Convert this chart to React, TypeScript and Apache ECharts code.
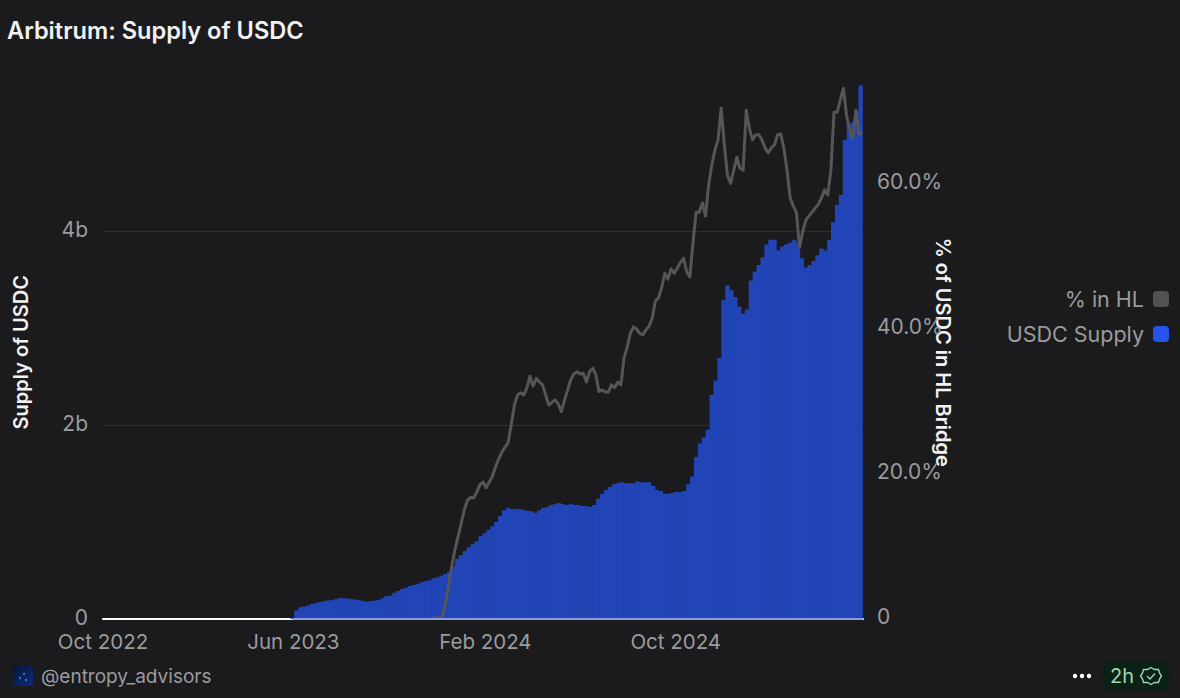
import React, { useEffect, useRef } from "react";
import * as echarts from "echarts";

const DAY = 86400000;
const axisStart = Date.UTC(2022, 9, 1);
const axisEnd = Date.UTC(2025, 4, 28);
const tickMonths = [Date.UTC(2022, 9, 1), Date.UTC(2023, 5, 1), Date.UTC(2024, 1, 1), Date.UTC(2024, 9, 1)];
const tickLabels = ["Oct 2022", "Jun 2023", "Feb 2024", "Oct 2024"];

// USDC supply in billions, one reading every 5 days from 31 May 2023
const supplyStart = Date.UTC(2023, 4, 31);
const supplyStepDays = 5;
const supplyB = [
  0.01, 0.09, 0.12, 0.13, 0.14, 0.155, 0.165, 0.175, 0.185, 0.19,
  0.195, 0.205, 0.215, 0.215, 0.21, 0.205, 0.2, 0.195, 0.185, 0.18,
  0.185, 0.19, 0.195, 0.215, 0.235, 0.24, 0.27, 0.29, 0.31, 0.32,
  0.34, 0.35, 0.36, 0.38, 0.39, 0.4, 0.42, 0.43, 0.445, 0.465,
  0.485, 0.545, 0.62, 0.66, 0.7, 0.74, 0.77, 0.8, 0.855, 0.885,
  0.92, 0.955, 1.0, 1.06, 1.12, 1.145, 1.135, 1.135, 1.13, 1.125,
  1.115, 1.11, 1.095, 1.12, 1.145, 1.155, 1.175, 1.185, 1.195, 1.185,
  1.175, 1.185, 1.175, 1.175, 1.165, 1.165, 1.155, 1.175, 1.24, 1.29,
  1.33, 1.36, 1.39, 1.4, 1.41, 1.4, 1.4, 1.4, 1.42, 1.41,
  1.41, 1.41, 1.37, 1.33, 1.32, 1.29, 1.29, 1.3, 1.31, 1.31,
  1.32, 1.39, 1.47, 1.67, 1.81, 1.87, 1.95, 2.31, 2.46, 2.69,
  3.29, 3.44, 3.39, 3.32, 3.22, 3.15, 3.19, 3.49, 3.58, 3.65,
  3.73, 3.86, 3.91, 3.91, 3.8, 3.84, 3.86, 3.88, 3.91, 3.88,
  3.72, 3.62, 3.65, 3.69, 3.75, 3.82, 3.8, 3.91, 4.09, 4.27,
  4.37, 4.94, 5.1, 5.12, 5.23, 5.5,
];

// Share of USDC in the HL bridge, percent, one reading every 4 days from 22 Nov 2023
const shareStart = Date.UTC(2023, 10, 22);
const shareStepDays = 4;
const sharePct = [
  0.1, 0.1, 0.15, 0.15, 0.3, 2.1, 4.7, 7.2, 9.5, 11.3,
  13.1, 15.0, 16.3, 16.8, 16.7, 17.5, 18.5, 18.9, 18.1, 18.9,
  19.7, 21.0, 22.1, 23.0, 23.7, 24.3, 26.8, 29.5, 30.9, 31.2,
  30.9, 31.9, 33.5, 32.1, 33.2, 32.7, 32.3, 30.9, 29.5, 29.9,
  30.2, 29.7, 28.6, 30.2, 31.6, 33.0, 33.8, 34.1, 33.8, 33.9,
  32.7, 34.1, 34.6, 33.7, 31.4, 31.6, 31.3, 31.3, 32.3, 31.9,
  32.7, 32.3, 36.0, 37.5, 39.4, 40.3, 40.0, 39.4, 39.2, 39.9,
  40.4, 41.5, 43.9, 44.3, 45.7, 47.7, 46.9, 48.3, 47.7, 48.4,
  49.2, 49.8, 47.9, 47.2, 51.9, 56.1, 56.1, 57.4, 55.6, 59.9,
  62.6, 64.7, 66.1, 70.5, 65.4, 61.2, 60.1, 61.9, 63.7, 62.2,
  61.9, 70.2, 67.7, 66.1, 66.8, 66.8, 66.1, 65.0, 64.3, 65.0,
  65.4, 66.8, 66.9, 65.0, 61.9, 58.1, 57.0, 56.1, 51.3, 53.4,
  55.0, 55.6, 56.1, 56.7, 57.2, 58.1, 59.2, 58.5, 61.9, 69.9,
  69.9, 71.6, 73.2, 69.5, 67.4, 66.3, 70.2, 66.8, 67.2,
];

const FONT = "Inter, 'Noto Sans', sans-serif";
const BG = "#1b1b1d";
const MUTED = "#9b9b9d";
const BLUE = "#2554eb";
const BAR = "#2145b6";
const GREY = "#565656";

export default function App() {
  const ref = useRef<HTMLDivElement>(null);
  useEffect(() => {
    document.body.style.margin = "0";
    document.body.style.background = BG;
    const chart = echarts.init(ref.current!, undefined, { renderer: "svg" });
    const supplyData = supplyB.map((v, i) => [supplyStart + i * supplyStepDays * DAY, v]);
    const shareData = sharePct.map((v, i) => [shareStart + i * shareStepDays * DAY, v]);
    chart.setOption({
      animation: false,
      backgroundColor: BG,
      textStyle: { fontFamily: FONT },
      title: {
        text: "Arbitrum: Supply of USDC",
        left: 2,
        top: 13,
        textStyle: { color: "#f2f2f2", fontSize: 23.6, fontWeight: 600, fontFamily: FONT },
      },
      legend: {
        orient: "vertical",
        right: 6,
        top: 283,
        align: "right",
        itemWidth: 16,
        itemHeight: 16,
        itemGap: 13,
        textStyle: { color: MUTED, fontSize: 21.5, fontFamily: FONT, padding: [0, 4, 0, 0] },
        data: [
          { name: "% in HL", icon: "roundRect", itemStyle: { color: "#525252", opacity: 1 } },
          { name: "USDC Supply", icon: "roundRect", itemStyle: { color: BLUE, opacity: 1 } },
        ],
      },
      grid: { left: 103, right: 317, top: 85.5, bottom: 79, outerBoundsMode: "none" },
      xAxis: {
        type: "value",
        min: axisStart,
        max: axisEnd,
        axisLine: { show: true, onZero: false, lineStyle: { color: "#ffffff", width: 2 } },
        axisTick: { show: false },
        splitLine: { show: false },
        axisLabel: {
          customValues: tickMonths,
          formatter: (v: number) => tickLabels[tickMonths.indexOf(v)] ?? "",
          color: MUTED,
          fontSize: 20.5,
          fontFamily: FONT,
          margin: 12,
          hideOverlap: false,
          showMinLabel: true,
        },
      },
      yAxis: [
        {
          type: "value",
          min: 0,
          max: 5.5,
          interval: 2,
          name: "Supply of USDC",
          nameLocation: "middle",
          nameGap: 72,
          nameMoveOverlap: false,
          nameRotate: 90,
          nameTextStyle: { color: "#f2f2f2", fontSize: 20, fontWeight: 600, fontFamily: FONT },
          axisLine: { show: false },
          axisTick: { show: false },
          splitLine: { show: true, showMaxLine: false, showMinLine: false, lineStyle: { color: "#2e2e30", width: 1 } },
          axisLabel: {
            color: MUTED,
            fontSize: 21,
            fontFamily: FONT,
            margin: 15,
            verticalAlign: "bottom",
            lineHeight: 4,
            formatter: (v: number) => (v % 2 === 0 ? (v === 0 ? "0" : `${v}b`) : ""),
          },
        },
        {
          type: "value",
          min: 0,
          max: 73.6,
          interval: 20,
          name: "% of USDC in HL Bridge",
          nameLocation: "middle",
          nameGap: 70,
          nameMoveOverlap: false,
          nameRotate: -90,
          nameTextStyle: { color: "#f2f2f2", fontSize: 20, fontWeight: 600, fontFamily: FONT },
          axisLine: { show: false },
          axisTick: { show: false },
          splitLine: { show: false },
          axisLabel: {
            color: MUTED,
            fontSize: 21,
            fontFamily: FONT,
            margin: 14,
            verticalAlign: "bottom",
            lineHeight: 6,
            formatter: (v: number) => (v % 20 === 0 ? (v === 0 ? "0" : `${v.toFixed(1)}%`) : ""),
          },
        },
      ],
      series: [
        {
          name: "USDC Supply",
          type: "bar",
          yAxisIndex: 0,
          data: supplyData,
          barWidth: 4.4,
          barGap: 0,
          itemStyle: { color: BAR },
          z: 3,
          markLine: {
            silent: true,
            symbol: "none",
            label: { show: false },
            lineStyle: { color: "#8d9ce2", width: 2, type: "solid" },
            data: [[
              { coord: [supplyStart, 0] },
              { coord: [axisEnd, 0] },
            ]],
          },
        },
        {
          name: "% in HL",
          type: "line",
          yAxisIndex: 1,
          data: shareData,
          showSymbol: false,
          symbol: "none",
          lineStyle: { color: GREY, width: 3, join: "round" },
          itemStyle: { color: GREY },
          z: 4,
        },
      ],
      graphic: [
        {
          type: "rect",
          shape: { x: 13, y: 666, width: 20, height: 20, r: 4 },
          style: {
            fill: new echarts.graphic.LinearGradient(0, 0, 1, 1, [
              { offset: 0, color: "#071436" },
              { offset: 1, color: "#0d2c7c" },
            ]),
          },
        },
        { type: "circle", shape: { cx: 20, cy: 678, r: 1 }, style: { fill: "#4d7fe0" } },
        { type: "circle", shape: { cx: 24, cy: 674, r: 1 }, style: { fill: "#4d7fe0" } },
        { type: "circle", shape: { cx: 26, cy: 680, r: 1 }, style: { fill: "#4d7fe0" } },
        {
          type: "text",
          x: 41,
          y: 676,
          style: { text: "@entropy_advisors", fill: MUTED, fontSize: 19, fontFamily: FONT, verticalAlign: "middle" },
        },
        { type: "circle", shape: { cx: 1075, cy: 676, r: 2.2 }, style: { fill: "#ffffff" } },
        { type: "circle", shape: { cx: 1082, cy: 676, r: 2.2 }, style: { fill: "#ffffff" } },
        { type: "circle", shape: { cx: 1089, cy: 676, r: 2.2 }, style: { fill: "#ffffff" } },
        {
          type: "rect",
          shape: { x: 1103, y: 662, width: 66, height: 28, r: 6 },
          style: { fill: "#0b2116" },
        },
        {
          type: "text",
          x: 1110,
          y: 676,
          style: { text: "2h", fill: "#9bd8b0", fontSize: 20, fontFamily: FONT, verticalAlign: "middle" },
        },
        {
          type: "polygon",
          shape: {
            points: [
              [1151, 667.5], [1154.5, 669.5], [1158.5, 669.5], [1159.5, 673], [1161.5, 676],
              [1159.5, 679], [1158.5, 682.5], [1154.5, 682.5], [1151, 684.5], [1147.5, 682.5],
              [1143.5, 682.5], [1142.5, 679], [1140.5, 676], [1142.5, 673], [1143.5, 669.5], [1147.5, 669.5],
            ],
          },
          style: { fill: "none", stroke: "#9bd8b0", lineWidth: 1.4 },
        },
        {
          type: "polyline",
          shape: { points: [[1147, 676], [1150, 679], [1155, 673.5]] },
          style: { fill: "none", stroke: "#9bd8b0", lineWidth: 1.4 },
        },
      ],
    });
    return () => chart.dispose();
  }, []);
  return <div ref={ref} style={{ position: "fixed", left: 0, top: 0, width: 1180, height: 698 }} />;
}
